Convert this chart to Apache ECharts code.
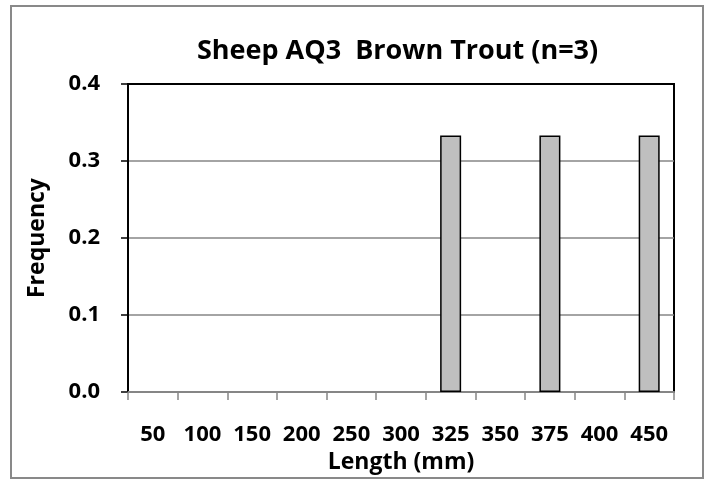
<!DOCTYPE html>
<html>
<head>
<meta charset="utf-8">
<script src="https://cdn.jsdelivr.net/npm/echarts@6/dist/echarts.min.js"></script>
<style>
  html, body { margin: 0; padding: 0; background: #fff; }
  #chart { width: 708px; height: 479px; }
</style>
</head>
<body>
<div id="chart"></div>
<script>
// length bins (mm) and relative frequency
var lengthBins = ['50', '100', '150', '200', '250', '300', '325', '350', '375', '400', '450']
var frequency = [0, 0, 0, 0, 0, 0, 0.333, 0, 0.333, 0, 0.333]
var yTicks = [0, 0.1, 0.2, 0.3, 0.4]

var font = '"Open Sans", "Liberation Sans", sans-serif'
var chart = echarts.init(document.getElementById('chart'))

chart.setOption({
  animation: false,
  backgroundColor: '#fff',
  title: {
    text: 'Sheep AQ3  Brown Trout (n=3)',
    left: 192,
    top: 33,
    textStyle: { fontFamily: font, fontSize: 27, fontWeight: 'bold', color: '#000' }
  },
  graphic: [{
    type: 'rect',
    shape: { x: 11, y: 6, width: 692, height: 472 },
    style: { fill: 'none', stroke: '#898989', lineWidth: 2 },
    silent: true
  }],
  grid: {
    left: 128,
    right: 34,
    top: 84,
    bottom: 85,
    show: true,
    borderColor: '#000',
    borderWidth: 2,
    backgroundColor: 'transparent'
  },
  xAxis: {
    type: 'category',
    data: lengthBins,
    boundaryGap: true,
    name: 'Length (mm)',
    nameLocation: 'middle',
    nameGap: 58,
    nameTextStyle: { fontFamily: font, fontSize: 23, fontWeight: 'bold', color: '#000' },
    axisLine: { lineStyle: { color: '#868686', width: 2 } },
    axisTick: { show: true, length: 8, lineStyle: { color: '#868686', width: 1.5 } },
    axisLabel: {
      interval: 0,
      margin: 32,
      fontFamily: font, fontSize: 22, fontWeight: 'bold', color: '#000'
    },
    splitLine: { show: false }
  },
  yAxis: {
    type: 'value',
    min: yTicks[0],
    max: yTicks[yTicks.length - 1],
    interval: 0.1,
    name: 'Frequency',
    nameLocation: 'middle',
    nameGap: 79,
    nameTextStyle: { fontFamily: font, fontSize: 23, fontWeight: 'bold', color: '#000' },
    axisLine: { show: true, lineStyle: { color: '#000', width: 2 } },
    axisTick: { show: true, length: 7, lineStyle: { color: '#000', width: 1.5 } },
    axisLabel: {
      margin: 28,
      formatter: function (v) { return v.toFixed(1) },
      fontFamily: font, fontSize: 22, fontWeight: 'bold', color: '#000'
    },
    splitLine: {
      show: true,
      lineStyle: { color: ['#868686', '#868686', '#868686', '#868686', '#000'], width: 1.5 }
    }
  },
  series: [{
    type: 'bar',
    data: frequency.map(function (v) { return v || null }),
    barWidth: 21,
    itemStyle: { color: '#bfbfbf', borderColor: '#000', borderWidth: 1.5 }
  }]
})
</script>
</body>
</html>
